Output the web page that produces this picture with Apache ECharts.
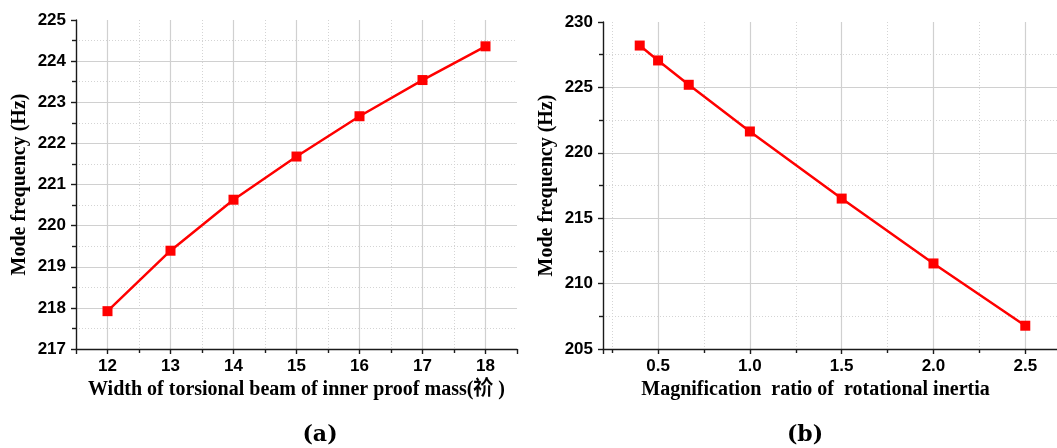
<!DOCTYPE html>
<html>
<head>
<meta charset="utf-8">
<script src="https://cdn.jsdelivr.net/npm/echarts@6/dist/echarts.min.js"></script>
<style>
html,body{margin:0;padding:0;background:#fff;}
#chart{width:1057px;height:448px;}
</style>
</head>
<body>
<div id="chart"></div>
<script>
// Panel (a)
const widthA = [12, 13, 14, 15, 16, 17, 18];
const freqA = [217.92, 219.39, 220.63, 221.68, 222.66, 223.54, 224.36];
// Panel (b)
const ratioB = [0.4, 0.5, 0.667, 1.0, 1.5, 2.0, 2.5];
const freqB = [228.2, 227.06, 225.2, 221.63, 216.5, 211.54, 206.78];

const xNameA = 'Width of torsional beam of inner proof mass(祄 )';
const xNameB = 'Magnification  ratio of  rotational inertia';
const yName = 'Mode frequency (Hz)';

const tickFont = {fontFamily: "'Liberation Sans', Arial, sans-serif", fontWeight: 'bold', fontSize: 17, color: '#000'};
const nameFont = {fontFamily: "'Liberation Serif', 'Times New Roman', 'Noto Sans CJK SC', serif", fontWeight: 'bold', fontSize: 20, color: '#000'};
const axisLineStyle = {color: '#1a1a1a', width: 1.4};
const majorGrid = {show: true, showMinLine: false, showMaxLine: false, lineStyle: {color: '#d0d0d0', width: 1.2, type: 'solid'}};
const minorGrid = {show: true, lineStyle: {color: '#d4d4d4', width: 1, type: [1, 2]}};

function xAxisBase(grid, min, max, fmt, name, namePad) {
  return {
    type: 'value', gridIndex: grid, min: min, max: max,
    axisLine: {show: true, onZero: false, lineStyle: axisLineStyle},
    axisTick: {show: true, length: 5, lineStyle: axisLineStyle},
    minorTick: {show: true, splitNumber: 2, length: 4, lineStyle: axisLineStyle},
    splitLine: majorGrid,
    minorSplitLine: minorGrid,
    axisLabel: Object.assign({margin: 9, showMinLabel: false, showMaxLabel: false, formatter: fmt}, tickFont),
    name: name, nameLocation: 'middle', nameGap: 31,
    nameTextStyle: Object.assign({padding: namePad}, nameFont)
  };
}
function yAxisBase(grid, min, max, interval) {
  return {
    type: 'value', gridIndex: grid, min: min, max: max, interval: interval,
    axisLine: {show: true, onZero: false, lineStyle: axisLineStyle},
    axisTick: {show: true, length: 5, lineStyle: axisLineStyle},
    minorTick: {show: true, splitNumber: 2, length: 4, lineStyle: axisLineStyle},
    splitLine: majorGrid,
    minorSplitLine: minorGrid,
    axisLabel: Object.assign({margin: 10}, tickFont),
    name: yName, nameLocation: 'middle', nameGap: 46, nameRotate: 90,
    nameTextStyle: nameFont
  };
}

const capRich = {
  p: {fontFamily: "'DejaVu Serif', serif", fontSize: 22, color: '#000'},
  b: {fontFamily: "'DejaVu Serif', serif", fontSize: 22, fontWeight: 'bold', color: '#000'}
};

const chart = echarts.init(document.getElementById('chart'), null, {renderer: 'canvas'});
chart.setOption({
  animation: false,
  backgroundColor: '#ffffff',
  title: [
    {text: '{p|(}{b|a}{p|)}', left: 315, top: 419, textAlign: 'center', textStyle: {rich: capRich}},
    {text: '{p|(}{b|b}{p|)}', left: 800, top: 419, textAlign: 'center', textStyle: {rich: capRich}}
  ],
  grid: [
    {left: 76, top: 20, right: 540, bottom: 99, outerBoundsMode: 'none', containLabel: false},
    {left: 603, top: 22, right: -5, bottom: 99, outerBoundsMode: 'none', containLabel: false}
  ],
  xAxis: [
    xAxisBase(0, 11.5, 18.5, v => String(v), xNameA, [0, 0, 0, 0]),
    xAxisBase(1, 0.2, 2.7, v => v.toFixed(1), xNameB, [0, 34, 0, 0])
  ],
  yAxis: [
    yAxisBase(0, 217, 225, 1),
    yAxisBase(1, 205, 230, 5)
  ],
  series: [
    {type: 'line', xAxisIndex: 0, yAxisIndex: 0, data: widthA.map((x, i) => [x, freqA[i]]),
     symbol: 'rect', symbolSize: 10, lineStyle: {color: '#ff0000', width: 2.5}, itemStyle: {color: '#ff0000'}},
    {type: 'line', xAxisIndex: 1, yAxisIndex: 1, data: ratioB.map((x, i) => [x, freqB[i]]),
     symbol: 'rect', symbolSize: 10, lineStyle: {color: '#ff0000', width: 2.5}, itemStyle: {color: '#ff0000'}}
  ]
});
</script>
</body>
</html>
